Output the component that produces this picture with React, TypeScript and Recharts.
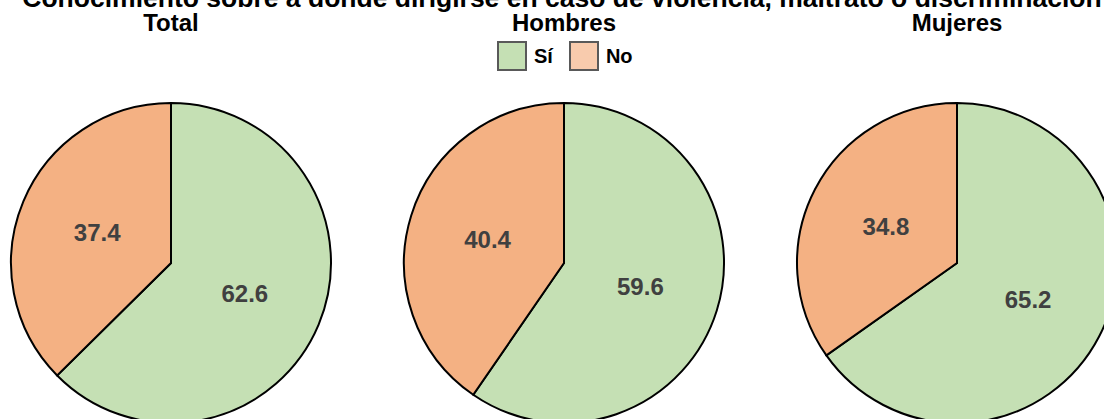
import React from "react";
import { PieChart, Pie, Cell, Legend } from "recharts";

const TITLE = "Conocimiento sobre a dónde dirigirse en caso de violencia, maltrato o discriminación";
const groups = ["Total", "Hombres", "Mujeres"];
const categories = ["Sí", "No"];
const siValues = [62.6, 59.6, 65.2];
const noValues = [37.4, 40.4, 34.8];
const sliceColors = ["#c5e0b4", "#f4b183"];
const legendColors = ["#c5e0b4", "#f8cbad"];

const W = 1104;
const H = 419;
const centersX = [171, 564, 957];
const CY = 263;
const R = 160;
const FONT = "'Liberation Sans', Arial, sans-serif";

const RAD = Math.PI / 180;

const renderLabel = (props: any) => {
  const { cx, cy, midAngle, outerRadius, value } = props;
  const r = outerRadius * 0.5;
  const x = cx + r * Math.cos(-midAngle * RAD);
  const y = cy + r * Math.sin(-midAngle * RAD);
  return (
    <text
      x={x}
      y={y}
      textAnchor="middle"
      dominantBaseline="central"
      fill="#404040"
      fontFamily={FONT}
      fontWeight="bold"
      fontSize={24}
    >
      {value.toFixed(1)}
    </text>
  );
};

const LegendContent = () => (
  <div style={{ display: "flex", alignItems: "center", fontFamily: FONT }}>
    {categories.map((c, i) => (
      <div key={c} style={{ display: "flex", alignItems: "center", marginRight: i === 0 ? 16 : 0 }}>
        <div
          style={{
            width: 30,
            height: 30,
            background: legendColors[i],
            border: "2px solid #595959",
            boxSizing: "border-box",
          }}
        />
        <span style={{ marginLeft: 7, fontWeight: "bold", fontSize: 20, color: "#000" }}>{c}</span>
      </div>
    ))}
  </div>
);

export default function App() {
  return (
    <div style={{ position: "absolute", left: 0, top: 0, width: W, height: H, background: "#fff" }}>
      <PieChart width={W} height={H} margin={{ top: 0, right: 0, bottom: 0, left: 0 }}>
        {groups.map((g, gi) => {
          const data = categories.map((c, ci) => ({
            name: c,
            value: ci === 0 ? siValues[gi] : noValues[gi],
          }));
          return (
            <Pie
              key={g}
              data={data}
              dataKey="value"
              nameKey="name"
              cx={centersX[gi]}
              cy={CY}
              outerRadius={R}
              startAngle={90}
              endAngle={-270}
              stroke="#000"
              strokeWidth={2}
              label={renderLabel}
              labelLine={false}
              isAnimationActive={false}
              legendType="none"
            >
              {data.map((d, i) => (
                <Cell key={d.name} fill={sliceColors[i]} stroke="#000" strokeWidth={2} />
              ))}
            </Pie>
          );
        })}
        <Legend
          content={<LegendContent />}
          wrapperStyle={{ position: "absolute", left: 497, top: 41, width: 170 }}
        />
        <text x={562} y={7} textAnchor="middle" fontFamily={FONT} fontWeight="bold" fontSize={26.5} fill="#000">
          {TITLE}
        </text>
        {groups.map((g, gi) => (
          <text key={g} x={centersX[gi]} y={31} textAnchor="middle" fontFamily={FONT} fontWeight="bold" fontSize={24} fill="#000">
            {g}
          </text>
        ))}
      </PieChart>
    </div>
  );
}
